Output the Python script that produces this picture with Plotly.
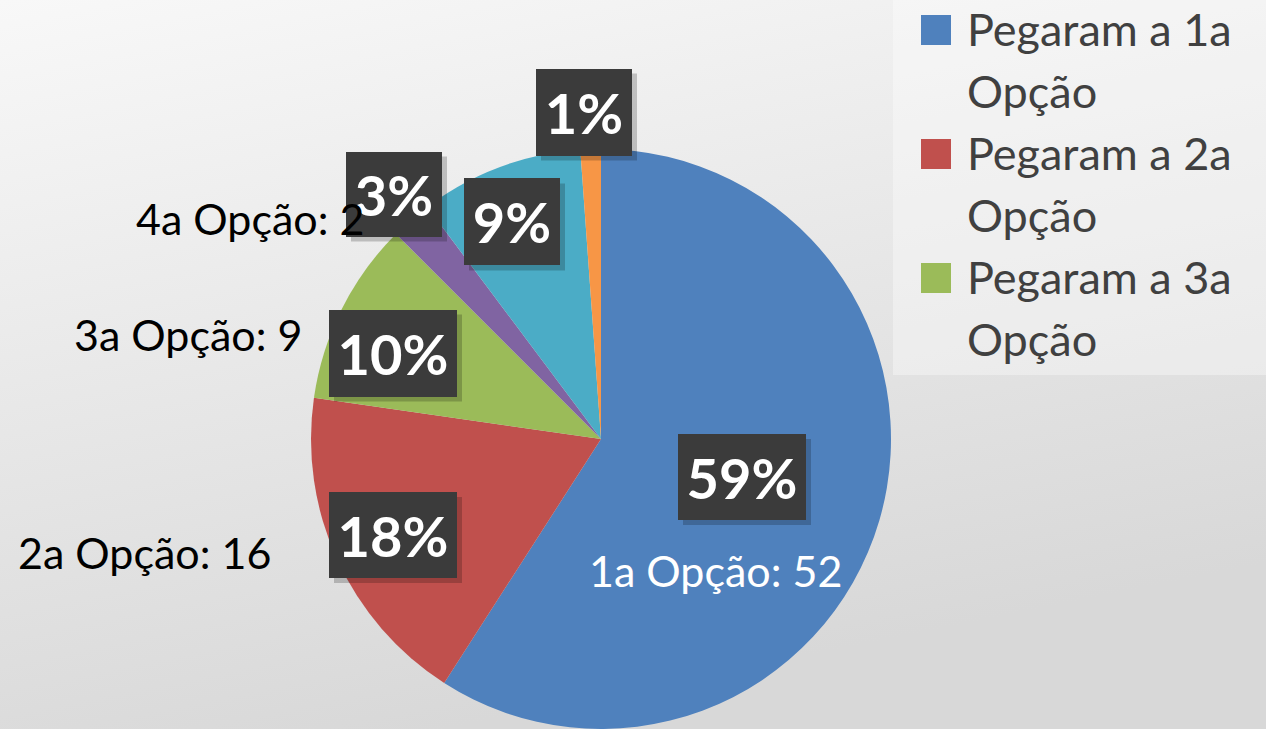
import base64
import plotly.graph_objects as go

# ---- data ----
categories = ["1a Opção", "2a Opção", "3a Opção", "4a Opção", "Outros", "Sem opção"]
values = [52, 16, 9, 2, 8, 1]
pct_text = ["59%", "18%", "10%", "3%", "9%", "1%"]
cat_labels = ["1a Opção: 52", "2a Opção: 16", "3a Opção: 9", "4a Opção: 2"]
legend_labels = ["Pegaram a 1a Opção", "Pegaram a 2a Opção", "Pegaram a 3a Opção"]
colors = ["#4F81BD", "#C0504D", "#9BBB59", "#8064A2", "#4BACC6", "#F79646"]

W, H = 1266, 729

def px(x):
    return x / W

def py(y):
    return 1 - y / H

# background gradient
svg = (
    '<svg xmlns="http://www.w3.org/2000/svg" width="1266" height="729">'
    '<defs><linearGradient id="g" x1="0" y1="0" x2="0.35" y2="1">'
    '<stop offset="0" stop-color="#f8f8f8"/><stop offset="1" stop-color="#d8d8d8"/>'
    '</linearGradient></defs><rect width="1266" height="729" fill="url(#g)"/></svg>'
)
src = "data:image/svg+xml;base64," + base64.b64encode(svg.encode()).decode()

cx, cy, r = 601, 439, 290

fig = go.Figure(go.Pie(
    labels=categories,
    values=values,
    sort=False,
    direction="clockwise",
    rotation=0,
    marker=dict(colors=colors, line=dict(width=0)),
    textinfo="none",
    hoverinfo="skip",
    showlegend=False,
    domain=dict(x=[px(cx - r), px(cx + r)], y=[py(cy + r), py(cy - r)]),
))

shapes = []
annotations = []

# percentage boxes (center x, center y, width, height)
boxes = [(742, 477, 128, 86), (393, 535, 128, 86), (393, 353, 128, 87),
         (394, 194, 96, 85), (512, 222, 96, 87), (584, 112, 96, 87)]
for t, (bx, by, bw, bh) in zip(pct_text, boxes):
    shapes.append(dict(type="rect", xref="paper", yref="paper",
                       x0=px(bx - bw / 2 + 5), x1=px(bx + bw / 2 + 5),
                       y0=py(by + bh / 2 + 5), y1=py(by - bh / 2 + 5),
                       fillcolor="rgba(0,0,0,0.2)", line=dict(width=0), layer="above"))
    annotations.append(dict(
        text="<b>%s</b>" % t, x=px(bx), y=py(by), xref="paper", yref="paper",
        xanchor="center", yanchor="middle", showarrow=False,
        width=bw, height=bh, bgcolor="#3b3b3b", borderpad=0, borderwidth=0,
        font=dict(family="Lato", size=56, color="white"), valign="middle"))

# category labels
cat_pos = [(715, 570, "white"), (144, 552, "black"), (188, 334, "black"), (250, 218, "black")]
for t, (lx, ly, c) in zip(cat_labels, cat_pos):
    annotations.append(dict(
        text=t, x=px(lx), y=py(ly), xref="paper", yref="paper",
        xanchor="center", yanchor="middle", showarrow=False,
        font=dict(family="Lato", size=43, color=c)))

# legend panel
shapes.append(dict(type="rect", xref="paper", yref="paper",
                   x0=px(893), x1=1, y0=py(375), y1=1,
                   fillcolor="rgba(255,255,255,0.35)", line=dict(width=0), layer="below"))
for i, (lab, col) in enumerate(zip(legend_labels, colors)):
    top = 15 + i * 124
    shapes.append(dict(type="rect", xref="paper", yref="paper",
                       x0=px(921), x1=px(951), y0=py(top + 30), y1=py(top),
                       fillcolor=col, line=dict(width=0)))
    words = lab.split(" ")
    lines = [" ".join(words[:-1]), words[-1]]
    for j, ln in enumerate(lines):
        annotations.append(dict(
            text=ln, x=px(965), y=py(top + 14 + j * 62), xref="paper", yref="paper",
            xanchor="left", yanchor="middle", showarrow=False,
            font=dict(family="Lato", size=45, color="#404040")))

fig.update_layout(
    width=W, height=H,
    margin=dict(l=0, r=0, t=0, b=0),
    paper_bgcolor="rgba(0,0,0,0)", plot_bgcolor="rgba(0,0,0,0)",
    images=[dict(source=src, xref="paper", yref="paper", x=0, y=1, sizex=1, sizey=1,
                 xanchor="left", yanchor="top", sizing="stretch", layer="below")],
    shapes=shapes,
    annotations=annotations,
)

fig.write_html("out.html", config={"displayModeBar": False},
               post_script="document.body.style.margin='0';document.body.style.overflow='hidden';")
